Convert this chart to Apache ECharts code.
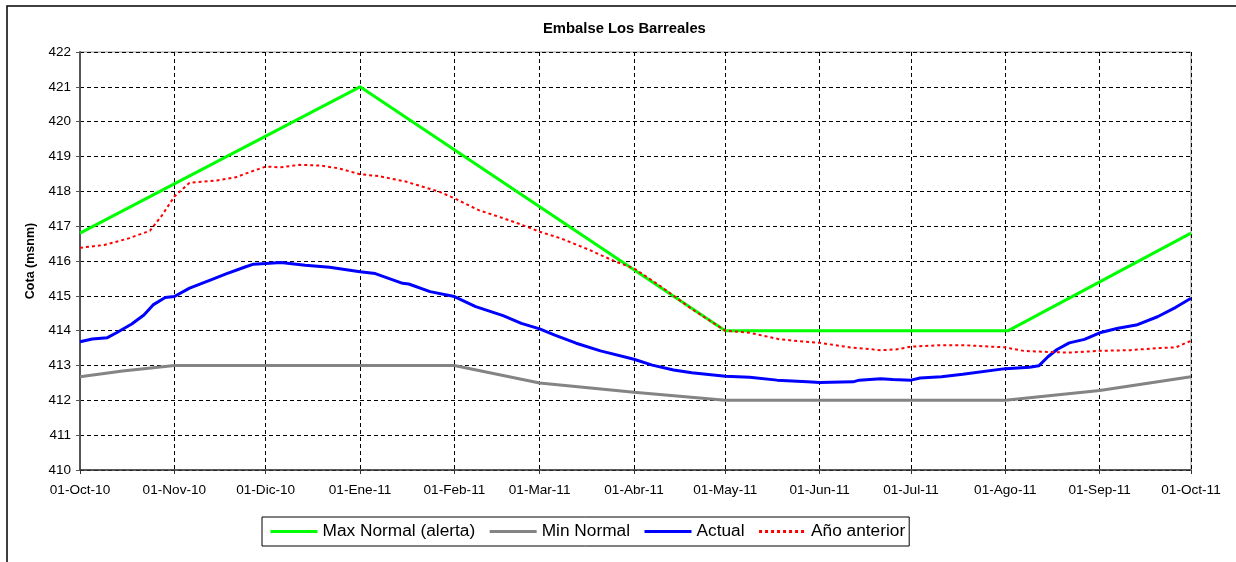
<!DOCTYPE html>
<html>
<head>
<meta charset="utf-8">
<title>Embalse Los Barreales</title>
<script src="https://cdn.jsdelivr.net/npm/echarts@6/dist/echarts.min.js"></script>
<style>
  html, body { margin: 0; padding: 0; background: #fff; }
  #chart { width: 1236px; height: 562px; }
</style>
</head>
<body>
<div id="chart"></div>
<script>
// ticks del eje x (primer dia de cada mes)
const monthTicks = [
  '2010-10-01', '2010-11-01', '2010-12-01', '2011-01-01', '2011-02-01', '2011-03-01', '2011-04-01',
  '2011-05-01', '2011-06-01', '2011-07-01', '2011-08-01', '2011-09-01', '2011-10-01'
]
const monthLabels = [
  '01-Oct-10', '01-Nov-10', '01-Dic-10', '01-Ene-11', '01-Feb-11', '01-Mar-11', '01-Abr-11',
  '01-May-11', '01-Jun-11', '01-Jul-11', '01-Ago-11', '01-Sep-11', '01-Oct-11'
]

// Max Normal (alerta)
const maxDates = ['2010-10-01', '2011-01-01', '2011-05-01', '2011-08-02', '2011-10-01']
const maxValues = [416.8, 421.0, 414.0, 414.0, 416.8]

// Min Normal
const minDates = ['2010-10-01', '2010-10-15', '2010-11-01', '2011-02-01', '2011-03-01', '2011-04-01',
  '2011-05-01', '2011-08-01', '2011-09-01', '2011-10-01']
const minValues = [412.68, 412.84, 413.0, 413.0, 412.5, 412.23, 412.0, 412.0, 412.28, 412.68]

// Actual
const actualDates = [
  '2010-10-01', '2010-10-05', '2010-10-10', '2010-10-13', '2010-10-18', '2010-10-22', '2010-10-25',
  '2010-10-29', '2010-11-01', '2010-11-06', '2010-11-13', '2010-11-18', '2010-11-24', '2010-11-27',
  '2010-12-01', '2010-12-06', '2010-12-14', '2010-12-22', '2011-01-01', '2011-01-06', '2011-01-15',
  '2011-01-17', '2011-01-24', '2011-02-01', '2011-02-08', '2011-02-17', '2011-02-23', '2011-03-01',
  '2011-03-06', '2011-03-13', '2011-03-21', '2011-04-01', '2011-04-07', '2011-04-14', '2011-04-20',
  '2011-05-01', '2011-05-09', '2011-05-18', '2011-05-28', '2011-06-01', '2011-06-12', '2011-06-14',
  '2011-06-21', '2011-06-25', '2011-07-01', '2011-07-04', '2011-07-11', '2011-07-18', '2011-08-01',
  '2011-08-09', '2011-08-12', '2011-08-15', '2011-08-18', '2011-08-22', '2011-08-27', '2011-09-01',
  '2011-09-07', '2011-09-13', '2011-09-20', '2011-09-26', '2011-10-01'
]
const actualValues = [
  413.68, 413.76, 413.80, 413.94, 414.19, 414.45, 414.74,
  414.95, 414.98, 415.22, 415.46, 415.63, 415.82, 415.91,
  415.93, 415.96, 415.88, 415.82, 415.69, 415.64, 415.36,
  415.34, 415.12, 414.98, 414.69, 414.43, 414.21, 414.05,
  413.87, 413.64, 413.42, 413.18, 413.01, 412.87, 412.79,
  412.69, 412.66, 412.58, 412.53, 412.51, 412.53, 412.58,
  412.62, 412.60, 412.58, 412.64, 412.68, 412.75, 412.91,
  412.95, 412.99, 413.25, 413.46, 413.65, 413.75, 413.94,
  414.07, 414.16, 414.40, 414.67, 414.93
]

// Año anterior
const prevDates = [
  '2010-10-01', '2010-10-09', '2010-10-17', '2010-10-24', '2010-10-28', '2010-11-01', '2010-11-06',
  '2010-11-15', '2010-11-21', '2010-11-27', '2010-12-01', '2010-12-06', '2010-12-12', '2010-12-19',
  '2010-12-25', '2011-01-01', '2011-01-07', '2011-01-16', '2011-01-27', '2011-02-01', '2011-02-09',
  '2011-02-18', '2011-02-25', '2011-03-01', '2011-03-08', '2011-03-17', '2011-03-26', '2011-04-01',
  '2011-04-10', '2011-04-20', '2011-05-01', '2011-05-09', '2011-05-19', '2011-05-29', '2011-06-01',
  '2011-06-11', '2011-06-21', '2011-06-26', '2011-07-01', '2011-07-10', '2011-07-19', '2011-08-01',
  '2011-08-07', '2011-08-15', '2011-08-22', '2011-09-01', '2011-09-11', '2011-09-20', '2011-09-26',
  '2011-10-01'
]
const prevValues = [
  416.38, 416.46, 416.65, 416.87, 417.32, 417.85, 418.25,
  418.31, 418.40, 418.59, 418.71, 418.69, 418.76, 418.74,
  418.66, 418.49, 418.44, 418.28, 417.99, 417.80, 417.46,
  417.20, 416.98, 416.84, 416.65, 416.33, 415.98, 415.79,
  415.26, 414.62, 414.00, 413.94, 413.75, 413.67, 413.65,
  413.52, 413.44, 413.46, 413.54, 413.58, 413.58, 413.52,
  413.42, 413.39, 413.37, 413.42, 413.44, 413.50, 413.52,
  413.71
]

// fechas -> milisegundos para un eje de valores
const toTime = d => +echarts.time.parse(d)
const pair = (dates, values) => dates.map((d, i) => [toTime(d), values[i]])

const tickTimes = monthTicks.map(toTime)
const labelOf = {}
tickTimes.forEach((t, i) => { labelOf[t] = monthLabels[i] })

const font = 'Liberation Sans, Arial, sans-serif'
const gridLine = { color: '#000', width: 1, type: [4, 3] }

const chart = echarts.init(document.getElementById('chart'))
const option = {
  animation: false,
  backgroundColor: '#fff',
  textStyle: { fontFamily: font, color: '#000' },
  title: {
    text: 'Embalse Los Barreales',
    left: 543,
    top: 21,
    padding: 0,
    textStyle: { fontSize: 14.8, fontWeight: 'bold', color: '#000', fontFamily: font },
  },
  graphic: [
    {
      type: 'rect',
      shape: { x: 7, y: 6, width: 1250, height: 600 },
      style: { fill: 'none', stroke: '#000', lineWidth: 1.5 },
      silent: true,
      z: -1,
    },
  ],
  grid: {
    left: 80,
    right: 45,
    top: 52,
    bottom: 92,
    show: true,
    borderColor: '#999',
    borderWidth: 1,
  },
  legend: {
    left: 262,
    top: 517,
    padding: [6, 4, 6, 7],
    itemWidth: 47,
    itemHeight: 14,
    itemGap: 13,
    borderColor: '#000',
    borderWidth: 1,
    // solo la linea, sin el circulo
    itemStyle: { opacity: 0 },
    lineStyle: { width: 3 },
    textStyle: { fontSize: 17.3, color: '#000', fontFamily: font },
    data: ['Max Normal (alerta)', 'Min Normal', 'Actual', 'Año anterior'],
  },
  xAxis: {
    type: 'value',
    min: tickTimes[0],
    max: tickTimes[tickTimes.length - 1],
    axisLine: { show: true, lineStyle: { color: '#333', width: 1.5 } },
    axisTick: { show: true, length: 4, customValues: tickTimes, lineStyle: { color: '#333' } },
    axisLabel: {
      customValues: tickTimes,
      margin: 13,
      fontSize: 13.6,
      color: '#000',
      fontFamily: font,
      formatter: v => labelOf[v] || '',
    },
    splitLine: { show: true, lineStyle: gridLine },
  },
  yAxis: {
    type: 'value',
    min: 410,
    max: 422,
    interval: 1,
    name: 'Cota (msnm)',
    nameLocation: 'middle',
    nameRotate: 90,
    nameGap: 43,
    nameTextStyle: { fontSize: 12.5, fontWeight: 'bold', color: '#000', fontFamily: font },
    axisLine: { show: true, lineStyle: { color: '#555', width: 2 } },
    axisTick: { show: true, length: 4, lineStyle: { color: '#555' } },
    axisLabel: { margin: 9, fontSize: 13.5, color: '#000', fontFamily: font },
    splitLine: { show: true, lineStyle: gridLine },
  },
  series: [
    {
      name: 'Max Normal (alerta)',
      type: 'line',
      symbol: 'none',
      lineStyle: { color: '#00ff00', width: 3 },
      itemStyle: { color: '#00ff00' },
      data: pair(maxDates, maxValues),
    },
    {
      name: 'Min Normal',
      type: 'line',
      symbol: 'none',
      lineStyle: { color: '#848484', width: 3 },
      itemStyle: { color: '#848484' },
      data: pair(minDates, minValues),
    },
    {
      name: 'Actual',
      type: 'line',
      symbol: 'none',
      lineStyle: { color: '#0000ff', width: 3 },
      itemStyle: { color: '#0000ff' },
      data: pair(actualDates, actualValues),
    },
    {
      name: 'Año anterior',
      type: 'line',
      symbol: 'none',
      lineStyle: { color: '#ff0000', width: 2, type: [3, 3] },
      itemStyle: { color: '#ff0000' },
      data: pair(prevDates, prevValues),
    },
  ],
}
chart.setOption(option)
</script>
</body>
</html>
